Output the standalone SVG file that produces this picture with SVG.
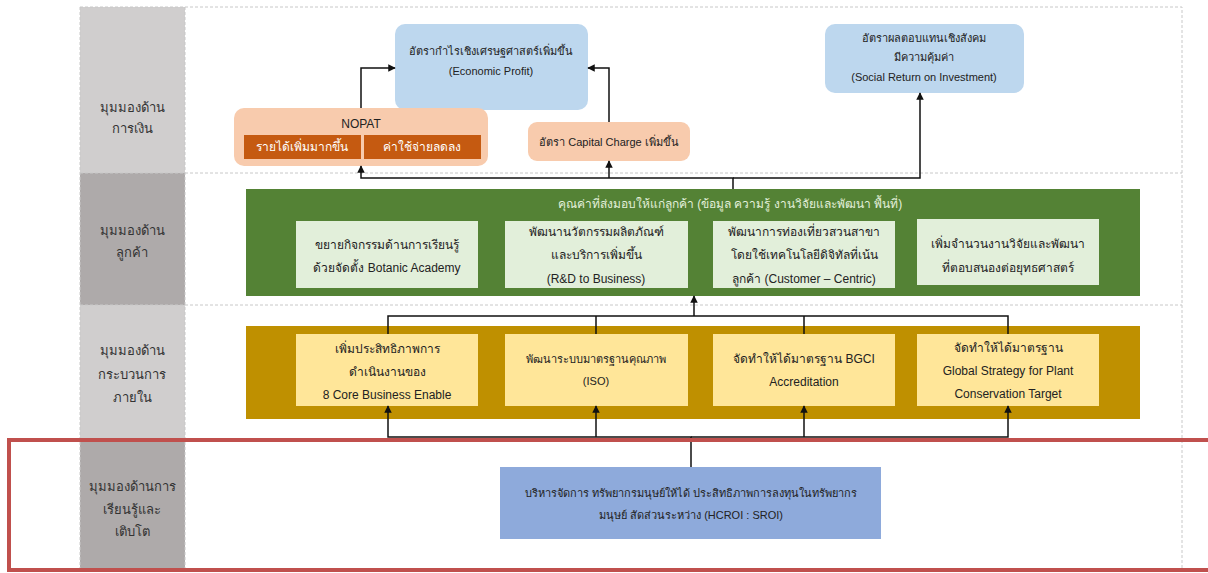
<svg xmlns="http://www.w3.org/2000/svg" width="1208" height="573" viewBox="0 0 1208 573">
<defs>
<style>
text{font-family:"Liberation Sans","DejaVu Sans","Noto Sans",sans-serif;text-anchor:middle;fill:#222}
.lbl{font-size:13px;fill:#333}
.t{font-size:12px}
.ts{font-size:11px}
.tw{font-size:12px;fill:#ffffff}
.tg{font-size:12px;fill:#e2efda}
.sep{stroke:#c8c8c8;stroke-width:1;stroke-dasharray:3 2;fill:none}
.conn{stroke:#111;stroke-width:1.5;fill:none}
.blue{fill:#bdd7ee}
.peach{fill:#f8cbad}
.dorange{fill:#c55a11}
.lgreen{fill:#e2efda}
.yellow{fill:#ffe699}
</style>
<marker id="ah" viewBox="0 0 10 10" refX="9" refY="5" markerWidth="5" markerHeight="5" orient="auto">
<path d="M0,0 L10,5 L0,10 z" fill="#111"/>
</marker>
</defs>
<rect width="1208" height="573" fill="#ffffff"/>
<g id="frame">
<rect x="80" y="7" width="105" height="166" fill="#d0cece"/>
<rect x="80" y="173" width="105" height="132" fill="#aeaaaa"/>
<rect x="80" y="305" width="105" height="135" fill="#d0cece"/>
<rect x="80" y="440" width="105" height="131" fill="#aeaaaa"/>
<path class="sep" d="M80,7 H1182 V571 M80,173 H1182 M80,305 H1182 M80,7 V571 M185,7 V571"/>
</g>
<g id="lane-labels">
<text class="lbl" x="132" y="112">มุมมองด้าน</text>
<text class="lbl" x="132" y="133">การเงิน</text>
<text class="lbl" x="132" y="235">มุมมองด้าน</text>
<text class="lbl" x="132" y="257">ลูกค้า</text>
<text class="lbl" x="132" y="355">มุมมองด้าน</text>
<text class="lbl" x="132" y="379">กระบวนการ</text>
<text class="lbl" x="132" y="402">ภายใน</text>
<text class="lbl" x="132" y="491">มุมมองด้านการ</text>
<text class="lbl" x="132" y="514">เรียนรู้และ</text>
<text class="lbl" x="132" y="536">เติบโต</text>
</g>
<g id="economic-profit">
<rect class="blue" x="395" y="24" width="193" height="86" rx="10"/>
<text class="ts" x="491" y="55">อัตรากำไรเชิงเศรษฐศาสตร์เพิ่มขึ้น</text>
<text class="ts" x="491" y="75">(Economic Profit)</text>
</g>
<g id="sroi">
<rect class="blue" x="825" y="24" width="199" height="69" rx="10"/>
<text class="ts" x="924" y="42">อัตราผลตอบแทนเชิงสังคม</text>
<text class="ts" x="924" y="61">มีความคุ้มค่า</text>
<text class="ts" x="924" y="81">(Social Return on Investment)</text>
</g>
<g id="nopat">
<rect class="peach" x="234" y="108" width="254" height="58" rx="10"/>
<text class="t" x="361" y="128">NOPAT</text>
<rect class="dorange" x="244" y="135" width="117" height="24"/>
<text class="tw" x="302" y="151">รายได้เพิ่มมากขึ้น</text>
<rect class="dorange" x="364" y="135" width="117" height="24"/>
<text class="tw" x="422" y="151">ค่าใช้จ่ายลดลง</text>
</g>
<g id="capital-charge">
<rect class="peach" x="528" y="122" width="162" height="39" rx="9"/>
<text class="ts" x="609" y="146">อัตรา Capital Charge เพิ่มขึ้น</text>
</g>
<g id="customer">
<rect x="246" y="189" width="894" height="107" fill="#548235"/>
<text class="tg" x="730" y="208">คุณค่าที่ส่งมอบให้แก่ลูกค้า (ข้อมูล ความรู้ งานวิจัยและพัฒนา พื้นที่)</text>
</g>
<g id="c1">
<rect class="lgreen" x="296" y="221" width="182" height="67"/>
<text class="t" x="387" y="249">ขยายกิจกรรมด้านการเรียนรู้</text>
<text class="t" x="387" y="272">ด้วยจัดตั้ง Botanic Academy</text>
</g>
<g id="c2">
<rect class="lgreen" x="505" y="221" width="183" height="67"/>
<text class="t" x="596" y="236">พัฒนานวัตกรรมผลิตภัณฑ์</text>
<text class="t" x="596" y="259">และบริการเพิ่มขึ้น</text>
<text class="t" x="596" y="283">(R&amp;D to Business)</text>
</g>
<g id="c3">
<rect class="lgreen" x="713" y="221" width="182" height="67"/>
<text class="t" x="804" y="236">พัฒนาการท่องเที่ยวสวนสาขา</text>
<text class="t" x="804" y="259">โดยใช้เทคโนโลยีดิจิทัลที่เน้น</text>
<text class="t" x="804" y="283">ลูกค้า (Customer – Centric)</text>
</g>
<g id="c4">
<rect class="lgreen" x="917" y="219" width="182" height="66"/>
<text class="t" x="1008" y="248">เพิ่มจำนวนงานวิจัยและพัฒนา</text>
<text class="t" x="1008" y="272">ที่ตอบสนองต่อยุทธศาสตร์</text>
</g>
<g id="internal">
<rect x="246" y="326" width="894" height="93" fill="#bf9000"/>
</g>
<g id="p1">
<rect class="yellow" x="296" y="334" width="182" height="72"/>
<text class="t" x="387" y="353">เพิ่มประสิทธิภาพการ</text>
<text class="t" x="387" y="376">ดำเนินงานของ</text>
<text class="t" x="387" y="399">8 Core Business Enable</text>
</g>
<g id="p2">
<rect class="yellow" x="505" y="334" width="183" height="72"/>
<text class="ts" x="596" y="363">พัฒนาระบบมาตรฐานคุณภาพ</text>
<text class="ts" x="596" y="385">(ISO)</text>
</g>
<g id="p3">
<rect class="yellow" x="713" y="334" width="182" height="72"/>
<text class="t" x="804" y="363">จัดทำให้ได้มาตรฐาน  BGCI</text>
<text class="t" x="804" y="386">Accreditation</text>
</g>
<g id="p4">
<rect class="yellow" x="917" y="334" width="182" height="72"/>
<text class="t" x="1008" y="352">จัดทำให้ได้มาตรฐาน</text>
<text class="t" x="1008" y="375">Global Strategy for Plant</text>
<text class="t" x="1008" y="398">Conservation Target</text>
</g>
<g id="learning">
<rect x="500" y="467" width="381" height="72" fill="#8eaadb"/>
<text class="ts" x="691" y="497">บริหารจัดการ  ทรัพยากรมนุษย์ให้ได้  ประสิทธิภาพการลงทุนในทรัพยากร</text>
<text class="ts" x="691" y="519">มนุษย์ สัดส่วนระหว่าง (HCROI : SROI)</text>
</g>
<g id="connectors">
<path class="conn" d="M361,108 V68 H395" marker-end="url(#ah)"/>
<path class="conn" d="M609,122 V68 H588" marker-end="url(#ah)"/>
<path class="conn" d="M733,189 V178 H361 V166" marker-end="url(#ah)"/>
<path class="conn" d="M609,178 V161" marker-end="url(#ah)"/>
<path class="conn" d="M733,178 H920 V93" marker-end="url(#ah)"/>
<path class="conn" d="M388,334 V316 H1008 V334 M596,334 V316 M804,334 V316"/>
<path class="conn" d="M694,316 V296" marker-end="url(#ah)"/>
<path class="conn" d="M691,467 V437 H388 V406" marker-end="url(#ah)"/>
<path class="conn" d="M691,437 H1008 V406" marker-end="url(#ah)"/>
<path class="conn" d="M596,437 V406" marker-end="url(#ah)"/>
<path class="conn" d="M804,437 V406" marker-end="url(#ah)"/>
</g>
<g id="highlight">
<rect x="9" y="440" width="1210" height="130" fill="none" stroke="#c0504d" stroke-width="4"/>
</g>
</svg>
